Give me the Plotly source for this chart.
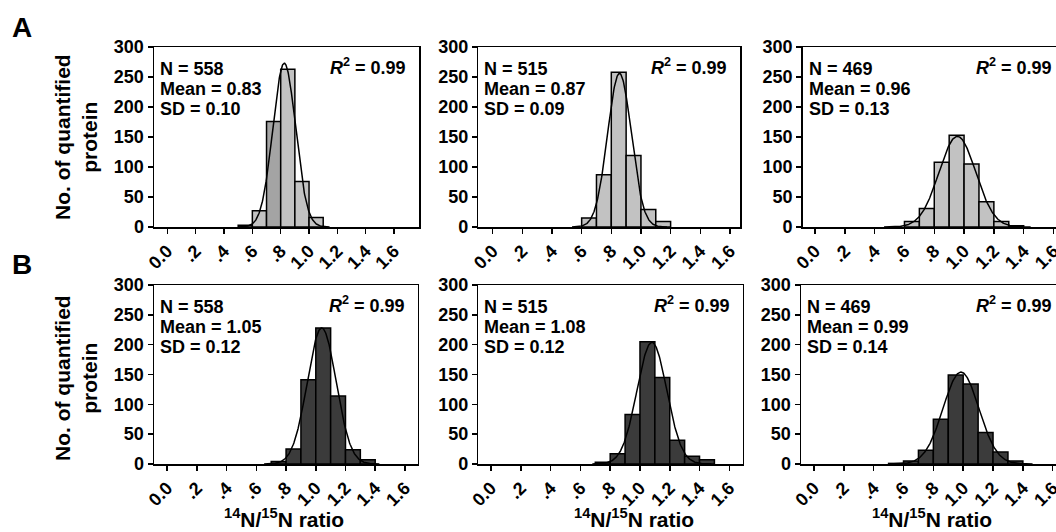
import numpy as np
import plotly.graph_objects as go

W, H = 1056, 532
FONT = "Liberation Sans, Arial, Helvetica, sans-serif"

# ---------------- data ----------------
centers_A1 = [0.55, 0.65, 0.75, 0.85, 0.95, 1.05]
counts_A1 = [3, 27, 176, 263, 76, 16]
centers_A2 = [0.65, 0.75, 0.85, 0.95, 1.05, 1.15]
counts_A2 = [15, 87, 258, 119, 29, 9]
centers_A3 = [0.65, 0.75, 0.85, 0.95, 1.05, 1.15, 1.25, 1.35]
counts_A3 = [9, 31, 108, 153, 105, 42, 9, 2]
centers_B1 = [0.75, 0.85, 0.95, 1.05, 1.15, 1.25, 1.35]
counts_B1 = [4, 25, 141, 228, 114, 24, 7]
centers_B2 = [0.75, 0.85, 0.95, 1.05, 1.15, 1.25, 1.35, 1.45]
counts_B2 = [3, 17, 83, 205, 145, 40, 13, 7]
centers_B3 = [0.55, 0.65, 0.75, 0.85, 0.95, 1.05, 1.15, 1.25, 1.35]
counts_B3 = [1, 5, 23, 75, 149, 134, 53, 20, 5]

# Gaussian fit parameters (peak height, centre, width)
fit_peak = [273, 256, 151, 228, 204, 154]
fit_mean = [0.825, 0.855, 0.955, 1.04, 1.08, 0.985]
fit_sd = [0.080, 0.080, 0.123, 0.097, 0.100, 0.120]

n_labels = ["N = 558", "N = 515", "N = 469", "N = 558", "N = 515", "N = 469"]
mean_labels = ["Mean = 0.83", "Mean = 0.87", "Mean = 0.96",
               "Mean = 1.05", "Mean = 1.08", "Mean = 0.99"]
sd_labels = ["SD = 0.10", "SD = 0.09", "SD = 0.13",
             "SD = 0.12", "SD = 0.12", "SD = 0.14"]
r2_label = "<i>R</i><sup>2</sup> = 0.99"
y_title = "No. of quantified<br>protein"
x_title = "<sup>14</sup>N/<sup>15</sup>N ratio"

x_tickvals = [0.0, 0.2, 0.4, 0.6, 0.8, 1.0, 1.2, 1.4, 1.6]
x_ticktext = ["0.0", ".2", ".4", ".6", ".8", "1.0", "1.2", "1.4", "1.6"]
y_tickvals = [0, 50, 100, 150, 200, 250, 300]

centers = [centers_A1, centers_A2, centers_A3, centers_B1, centers_B2, centers_B3]
counts = [counts_A1, counts_A2, counts_A3, counts_B1, counts_B2, counts_B3]

# ---------------- layout geometry (pixels) ----------------
LIGHT, LIGHT_DARK, DARK = "#c2c2c2", "#a4a4a4", "#3b3b3b"
frames = [
    (154.0, 419.3, 47.0, 227.0),
    (478.3, 740.0, 47.0, 227.0),
    (802.7, 1056.0, 47.0, 227.0),
    (154.0, 417.7, 285.0, 464.0),
    (478.3, 742.7, 285.0, 464.0),
    (801.0, 1056.0, 285.0, 464.0),
]
xranges = [
    [-0.094, 1.778],
    [-0.097, 1.668],
    [-0.083, 1.617],
    [-0.089, 1.686],
    [-0.086, 1.690],
    [-0.087, 1.622],
]
x_title_centers = [284, 634, 932]


def px(x):
    return x / W


def py(y):
    return 1 - y / H


fig = go.Figure()
annotations = []
layout_axes = {}

for i in range(6):
    k = "" if i == 0 else str(i + 1)
    xa, ya = "x" + k, "y" + k
    left, right, top, bottom = frames[i]
    row_b = i >= 3

    if row_b:
        colors = [DARK] * len(counts[i])
    else:
        colors = [LIGHT] * len(counts[i])
        if i == 0:
            colors[2] = LIGHT_DARK
    fig.add_trace(go.Bar(
        x=centers[i], y=counts[i], width=0.1,
        marker=dict(color=colors, line=dict(color="black", width=1.5)),
        xaxis=xa, yaxis=ya, showlegend=False, hoverinfo="x+y"))

    mu, sd, pk = fit_mean[i], fit_sd[i], fit_peak[i]
    xs = np.linspace(mu - 4 * sd, mu + 4 * sd, 241)
    ys = pk * np.exp(-0.5 * ((xs - mu) / sd) ** 2)
    fig.add_trace(go.Scatter(
        x=xs, y=ys, mode="lines", line=dict(color="black", width=1.5),
        xaxis=xa, yaxis=ya, showlegend=False, hoverinfo="skip"))

    tickfont = dict(family=FONT, size=18, color="black", weight="bold")
    layout_axes["xaxis" + k] = dict(
        domain=[px(left), px(right)], range=xranges[i], anchor=ya,
        tickvals=x_tickvals, ticktext=x_ticktext, tickangle=-45,
        ticks="outside", ticklen=5, tickwidth=1.5, tickcolor="black",
        showline=True, linecolor="black", linewidth=1.5, mirror=True,
        showgrid=False, zeroline=False, tickfont=tickfont, fixedrange=True,
        automargin=False, ticklabeloverflow="allow")
    layout_axes["yaxis" + k] = dict(
        domain=[py(bottom), py(top)], range=[0, 300], anchor=xa,
        tickvals=y_tickvals, ticks="outside", ticklen=5, tickwidth=1.5,
        tickcolor="black", showline=True, linecolor="black", linewidth=1.5,
        mirror=(i % 3 != 2), showgrid=False, zeroline=False,
        tickfont=tickfont, fixedrange=True, automargin=False)

    afont = dict(family=FONT, size=18, color="black", weight="bold")
    for j, txt in enumerate([n_labels[i], mean_labels[i], sd_labels[i]]):
        annotations.append(dict(
            xref="paper", yref="paper", x=px(left + 4), y=py(top + 22 + 20 * j),
            xanchor="left", yanchor="middle", text=txt, showarrow=False,
            font=afont))
    r_right = right - 11 if i % 3 != 2 else 1054
    annotations.append(dict(
        xref="paper", yref="paper", x=px(r_right), y=py(top + 19),
        xanchor="right", yanchor="middle",
        text=r2_label, showarrow=False, font=afont))

# y-axis titles
for cy in (137, 378):
    annotations.append(dict(
        xref="paper", yref="paper", x=px(76), y=py(cy),
        xanchor="center", yanchor="middle", textangle=-90,
        text=y_title, showarrow=False,
        font=dict(family=FONT, size=21, color="black", weight="bold")))

# x-axis titles (bottom row)
for cx in x_title_centers:
    annotations.append(dict(
        xref="paper", yref="paper", x=px(cx), y=py(518),
        xanchor="center", yanchor="middle",
        text=x_title, showarrow=False,
        font=dict(family=FONT, size=21, color="black", weight="bold")))

# panel letters
for letter, cy in (("A", 28), ("B", 264)):
    annotations.append(dict(
        xref="paper", yref="paper", x=px(22), y=py(cy),
        xanchor="center", yanchor="middle", text=letter, showarrow=False,
        font=dict(family=FONT, size=28, color="black", weight="bold")))

fig.update_layout(
    width=W, height=H, margin=dict(l=0, r=0, t=0, b=0, autoexpand=False),
    paper_bgcolor="white", plot_bgcolor="white",
    showlegend=False, bargap=0, annotations=annotations,
    font=dict(family=FONT, color="black"),
    **layout_axes)

fig.write_html(
    "out.html",
    config={"displayModeBar": False, "staticPlot": True},
    post_script="document.body.style.margin='0px';"
                "document.body.style.overflow='hidden';")
